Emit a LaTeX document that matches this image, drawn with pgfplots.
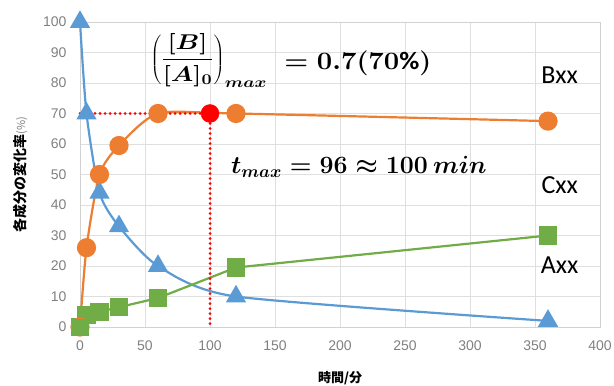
\documentclass[border=0pt]{standalone}
\usepackage{graphicx}
\usepackage{pgfplots}
\pgfplotsset{compat=1.18}
\usepackage{fontspec}
\setmainfont{Carlito}
\newfontfamily\cjk{Noto Sans CJK JP}
\newfontfamily\tickfont{Liberation Sans}
\definecolor{xblue}{HTML}{5B9BD5}
\definecolor{xorange}{HTML}{ED7D31}
\definecolor{xgreen}{HTML}{70AD47}
\definecolor{tickgray}{HTML}{808080}
\newsavebox{\eqbox}
\newsavebox{\eqboxb}
\newsavebox{\tmbox}
\begin{document}
\sbox{\eqbox}{\scalebox{1.25}[1.03]{\fontsize{22}{26}\selectfont\boldmath$\displaystyle\left(\frac{[B]}{[A]_0}\right)_{max}$}}%
\sbox{\eqboxb}{\scalebox{1.1}[1]{\fontsize{25}{30}\selectfont\boldmath$= 0.7(70\%)$}}%
\sbox{\tmbox}{\fontsize{24}{28}\selectfont\boldmath$t_{max} = 96 \approx 100\ min$}%
\begin{tikzpicture}
\begin{axis}[
  scale only axis, width=520pt, height=305pt,
  xmin=0, xmax=400, ymin=0, ymax=100,
  xtick={0,50,...,400}, ytick={0,10,...,100},
  grid=major, grid style={gray!25, line width=0.6pt},
  axis line style={gray!35},
  tick style={draw=none},
  ticklabel style={font=\tickfont\fontsize{14}{16}\selectfont, text=tickgray},
  xticklabel style={yshift=-10pt},
  yticklabel style={xshift=-10pt},
  /pgf/number format/assume math mode=true,
  clip=false,
  xlabel={\cjk\bfseries\fontsize{13}{14}\selectfont 時間/分},
  ylabel={\cjk\bfseries\fontsize{14}{15}\selectfont 各成分の変化率{\mdseries\color{tickgray}\fontsize{11}{12}\selectfont (\%)}},
  xlabel style={at={(axis description cs:0.5,0)}, anchor=center, yshift=-51pt},
  ylabel style={at={(axis description cs:0,0.5)}, anchor=center, rotate=0, yshift=60pt},
]
\coordinate (ll) at (rel axis cs:0,0);
\coordinate (ur) at (rel axis cs:1,1);
\coordinate (eq) at (axis cs:54,87.5);
\coordinate (eqb) at (axis cs:157,86.5);
\coordinate (tm) at (axis cs:116,52.5);
\coordinate (lb) at (axis cs:369,82.6);
\coordinate (lc) at (axis cs:369,46.6);
\coordinate (la) at (axis cs:369,20.3);
% A
\addplot[xblue, line width=2.2pt, smooth, tension=0.4, mark=triangle*, mark size=9.5pt, mark options={solid}]
  coordinates {(0,100) (5,70) (15,44) (30,33) (60,20) (120,10) (360,2)};
% C
\addplot[xgreen, line width=2.2pt, mark=square*, mark size=8pt]
  coordinates {(0,0) (5,4) (15,5) (30,6.5) (60,9.5) (120,19.5) (360,30)};
% B
\addplot[xorange, line width=2.2pt, smooth, tension=0.4, mark=*, mark size=8.5pt]
  coordinates {(0,0) (5,26) (15,50) (30,59.5) (60,70) (120,70) (360,67.5)};
\addplot[only marks, mark=square*, mark size=8pt, draw=xgreen, fill=xgreen] coordinates {(0,0)};
% red guides
\addplot[red, line width=3pt, line cap=round, dash pattern=on 0pt off 5pt] coordinates {(0,70) (100,70)};
\addplot[red, line width=3pt, line cap=round, dash pattern=on 0pt off 5pt] coordinates {(100,70) (100,0)};
\addplot[red, only marks, mark=*, mark size=9pt] coordinates {(100,70)};
\end{axis}
\node[anchor=west, inner sep=0pt] at (eq) {\usebox{\eqbox}};
\node[anchor=west, inner sep=0pt] at (eqb) {\usebox{\eqboxb}};
\node[anchor=west, inner sep=0pt] at (tm) {\usebox{\tmbox}};
\node[font=\fontsize{26}{30}\selectfont] at (lb) {Bxx};
\node[font=\fontsize{26}{30}\selectfont] at (lc) {Cxx};
\node[font=\fontsize{26}{30}\selectfont] at (la) {Axx};
\pgfresetboundingbox
\path ([shift={(-80pt,-58pt)}]ll) rectangle ([shift={(14pt,22pt)}]ur);
\end{tikzpicture}
\end{document}
